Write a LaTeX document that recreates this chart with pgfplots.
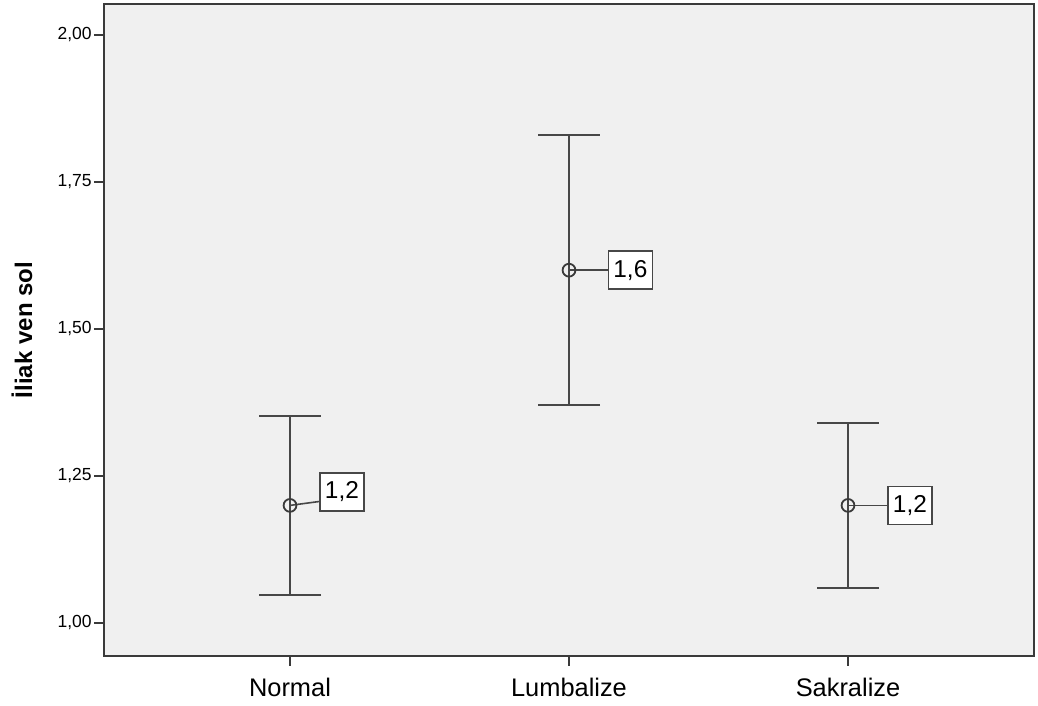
\documentclass[border=0pt]{standalone}
\usepackage{fontspec}
\setmainfont{Liberation Sans}
\usepackage{pgfplots}
\pgfplotsset{compat=1.18}
\definecolor{bg}{HTML}{F0F0F0}
\definecolor{ln}{HTML}{474747}
\definecolor{fr}{HTML}{3A3A3A}
\begin{document}
\begin{tikzpicture}
\begin{axis}[
  scale only axis, width=465pt, height=326pt,
  xmin=0.3333, xmax=3.6667, ymin=0.9439, ymax=2.0527,
  axis background/.style={fill=bg},
  axis line style={draw=fr, line width=1pt},
  tick align=outside, major tick length=5pt,
  xtick pos=bottom, ytick pos=left,
  tick style={draw=fr, line width=1pt},
  xtick={1,2,3}, xticklabels={Normal,Lumbalize,Sakralize},
  ytick={1,1.25,1.5,1.75,2},
  yticklabel={\pgfmathprintnumber[fixed,fixed zerofill,precision=2,use comma]{\tick}},
  /pgf/number format/assume math mode=true,
  yticklabel style={font=\fontsize{8.75}{10}\selectfont, inner sep=1pt},
  xticklabel style={font=\fontsize{12.7}{14}\selectfont, inner sep=0pt, anchor=north, yshift=-6pt},
  ylabel={\textbf{İliak ven sol}},
  ylabel style={font=\fontsize{12}{14}\selectfont, at={(axis description cs:-0.0882,0.5)}, anchor=center},
  clip=false,
]
\draw[ln, line width=0.8pt] (axis cs:1,1.2) -- (axis cs:1.1075,1.2068);
\draw[ln, line width=0.8pt] (axis cs:2,1.6) -- (axis cs:2.143,1.6);
\draw[ln, line width=0.8pt] (axis cs:3,1.2) -- (axis cs:3.143,1.2);
\addplot[ln, line width=1pt, only marks, mark=o, mark size=3.2pt,
  mark options={fill=bg, draw=fr, line width=0.9pt},
  error bars/.cd, y dir=both, y explicit,
  error bar style={ln, line width=1pt},
  error mark options={rotate=90, mark size=15.5pt, ln, line width=1pt}]
  table[x=x, y=y, y error=e] {
x y e
1 1.200 0.152
2 1.600 0.230
3 1.200 0.140
};
\tikzset{vlab/.style={draw=ln, fill=white, line width=0.8pt, minimum width=22pt, minimum height=19pt, inner sep=0pt, font=\fontsize{12.2}{14}\selectfont}}
\node[vlab] at (axis cs:1.186,1.223) {1,2};
\node[vlab] at (axis cs:2.220,1.600) {1,6};
\node[vlab] at (axis cs:3.222,1.200) {1,2};
\end{axis}
\pgfresetboundingbox
\path ([shift={(-52pt,-25pt)}]current axis.south west) rectangle ([shift={(2pt,2pt)}]current axis.north east);
\end{tikzpicture}
\end{document}
